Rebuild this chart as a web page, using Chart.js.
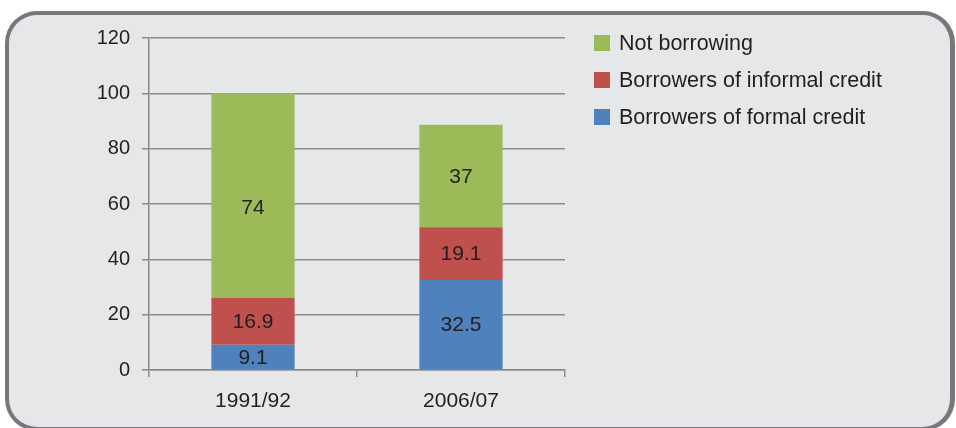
<!DOCTYPE html>
<html>
<head>
<meta charset="utf-8">
<script src="https://cdn.jsdelivr.net/npm/chart.js@4.4.1/dist/chart.umd.min.js"></script>
<style>
  html, body { margin: 0; padding: 0; background: #ffffff; width: 956px; height: 428px; overflow: hidden; }
  #frame {
    position: absolute; left: 5px; top: 11px; width: 950px; height: 420px;
    box-sizing: border-box; border: 4px solid #77787b; border-right-width: 5px;
    border-radius: 32px; background: #e6e7e8;
  }
  #wrap { position: absolute; left: 0; top: 0; width: 956px; height: 428px; }
</style>
</head>
<body>
<div id="frame"></div>
<div id="wrap"><canvas id="chart" width="956" height="428"></canvas></div>
<script>
// Share of households by borrowing status (%)
const categories = ['1991/92', '2006/07'];
const formalCredit = [9.1, 32.5];
const informalCredit = [16.9, 19.1];
const notBorrowing = [74, 37];
const yTickValues = [0, 20, 40, 60, 80, 100, 120];

const seriesNames = ['Borrowers of formal credit', 'Borrowers of informal credit', 'Not borrowing'];
const seriesColors = ['#4f81bd', '#c0504d', '#9bbb59'];

const FONT = '"Liberation Sans", Arial, Helvetica, sans-serif';
const TEXT = '#231f20';
const RULE = '#8a8b8d';

// Value written in each stacked segment (centred, with an optional vertical nudge)
const segmentLabels = {
  id: 'segmentLabels',
  afterDatasetsDraw(chart, args, opts) {
    const ctx = chart.ctx;
    const nudges = opts.nudges || [];
    ctx.save();
    ctx.font = '21px ' + FONT;
    ctx.fillStyle = TEXT;
    ctx.textAlign = 'center';
    ctx.textBaseline = 'middle';
    chart.data.datasets.forEach((ds, i) => {
      chart.getDatasetMeta(i).data.forEach((bar, j) => {
        const p = bar.getProps(['x', 'y', 'base'], true);
        const n = nudges.find(m => m.dataset === i && m.index === j);
        const dy = n ? n.dy : 0;
        ctx.fillText(String(ds.data[j]), p.x, (p.y + p.base) / 2 + 1 + dy);
      });
    });
    ctx.restore();
  }
};

// Key to the right of the plot, top series first
const sideLegend = {
  id: 'sideLegend',
  afterDraw(chart) {
    const ctx = chart.ctx;
    const area = chart.chartArea;
    const boxX = area.right + 29;
    const firstRow = area.top + 5;
    const rowGap = 37;
    const box = 16;
    ctx.save();
    ctx.font = '21.5px ' + FONT;
    ctx.textAlign = 'left';
    ctx.textBaseline = 'middle';
    const items = chart.data.datasets.map(ds => ({ label: ds.label, color: ds.backgroundColor })).reverse();
    items.forEach((it, k) => {
      const cy = firstRow + k * rowGap;
      ctx.fillStyle = it.color;
      ctx.fillRect(boxX, cy - box / 2, box, box);
      ctx.fillStyle = TEXT;
      ctx.fillText(it.label, boxX + box + 9, cy + 1);
    });
    ctx.restore();
  }
};

const datasets = [formalCredit, informalCredit, notBorrowing].map((values, i) => ({
  label: seriesNames[i],
  data: values,
  backgroundColor: seriesColors[i],
  borderWidth: 0,
  categoryPercentage: 0.8,
  barPercentage: 0.5
}));

new Chart(document.getElementById('chart'), {
  type: 'bar',
  data: { labels: categories, datasets },
  plugins: [segmentLabels, sideLegend],
  options: {
    responsive: false,
    animation: false,
    devicePixelRatio: 1,
    layout: { padding: { left: 0, top: 38, right: 391, bottom: 0 } },
    plugins: {
      legend: { display: false },
      tooltip: { enabled: false },
      segmentLabels: { nudges: [{ dataset: 2, index: 0, dy: 12 }] }
    },
    scales: {
      x: {
        stacked: true,
        offset: true,
        grid: { display: true, drawOnChartArea: false, drawTicks: true, tickLength: 7, color: RULE, lineWidth: 1.5, offset: true },
        border: { display: true, color: RULE, width: 1.5 },
        ticks: { color: TEXT, font: { family: FONT, size: 21 }, padding: 12, maxRotation: 0 },
        afterFit(axis) { axis.height = 58; }
      },
      y: {
        stacked: true,
        min: 0,
        max: 120,
        afterBuildTicks(axis) { axis.ticks = yTickValues.map(v => ({ value: v })); },
        grid: { color: RULE, lineWidth: 1.5, tickLength: 7, drawTicks: true },
        border: { display: true, color: RULE, width: 1.5 },
        ticks: { color: TEXT, font: { family: FONT, size: 20 }, padding: 12 },
        afterFit(axis) { axis.width = 149; }
      }
    }
  }
});
</script>
</body>
</html>
